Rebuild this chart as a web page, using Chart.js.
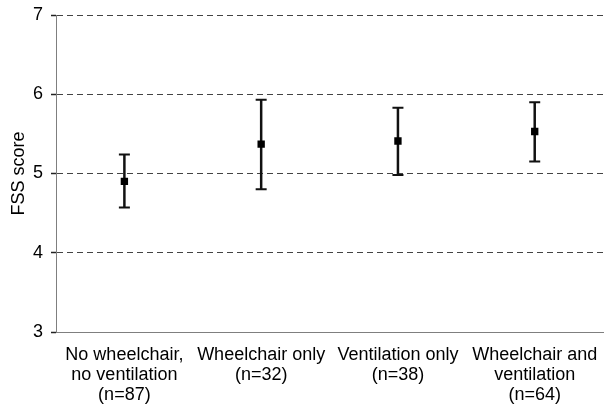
<!DOCTYPE html>
<html>
<head>
<meta charset="utf-8">
<script src="https://cdn.jsdelivr.net/npm/chart.js@4/dist/chart.umd.min.js"></script>
<style>
  html, body { margin: 0; padding: 0; background: #fff; }
  #wrap { width: 611px; height: 407px; }
</style>
</head>
<body>
<div id="wrap"><canvas id="c" width="611" height="407"></canvas></div>
<script>
// Group labels (one entry per line)
const categories = [
  ['No wheelchair,', 'no ventilation', '(n=87)'],
  ['Wheelchair only', '(n=32)'],
  ['Ventilation only', '(n=38)'],
  ['Wheelchair and', 'ventilation', '(n=64)']
];
// Mean FSS score per group and the ends of its error bar
const means = [4.90, 5.37, 5.41, 5.53];
const upper = [5.24, 5.93, 5.83, 5.90];
const lower = [4.57, 4.80, 4.98, 5.15];
// Y-axis range
const yMin = 3, yMax = 7, yStep = 1;

// Draws vertical whiskers with caps for each group, positioned by the chart's scales
const errorBars = {
  id: 'errorBars',
  beforeDatasetsDraw(chart) {
    const ctx = chart.ctx;
    const xs = chart.scales.x, ys = chart.scales.y;
    ctx.save();
    ctx.strokeStyle = '#111';
    ctx.lineCap = 'butt';
    means.forEach((m, i) => {
      const x = xs.getPixelForValue(i);
      const yTop = ys.getPixelForValue(upper[i]);
      const yBot = ys.getPixelForValue(lower[i]);
      ctx.lineWidth = 2.5;
      ctx.beginPath();
      ctx.moveTo(x, yTop);
      ctx.lineTo(x, yBot);
      ctx.stroke();
      ctx.lineWidth = 2;
      ctx.beginPath();
      ctx.moveTo(x - 5.5, yTop);
      ctx.lineTo(x + 5.5, yTop);
      ctx.moveTo(x - 5.5, yBot);
      ctx.lineTo(x + 5.5, yBot);
      ctx.stroke();
    });
    ctx.restore();
  }
};

Chart.defaults.font.family = '"Liberation Sans", Arial, sans-serif';
Chart.defaults.font.size = 18;
Chart.defaults.color = '#000';

new Chart(document.getElementById('c'), {
  type: 'line',
  data: {
    labels: categories,
    datasets: [{
      data: means,
      showLine: false,
      pointStyle: 'rect',
      pointRadius: 5.2,
      pointBackgroundColor: '#000',
      pointBorderColor: '#000',
      pointBorderWidth: 0
    }]
  },
  options: {
    responsive: false,
    animation: false,
    devicePixelRatio: 1,
    layout: { padding: { top: 15, right: 6, bottom: 0, left: 0 } },
    plugins: { legend: { display: false }, tooltip: { enabled: false } },
    scales: {
      x: {
        type: 'category',
        offset: true,
        grid: { drawOnChartArea: false, drawTicks: false },
        border: { display: true, color: '#7f7f7f', width: 1 },
        ticks: {
          maxRotation: 0,
          autoSkip: false,
          padding: 13,
          font: { size: 18, lineHeight: 20 / 18 }
        },
        afterFit(scale) { scale.height = 75; }
      },
      y: {
        min: yMin,
        max: yMax,
        ticks: { stepSize: yStep, padding: 8, font: { size: 18 } },
        grid: {
          color: (c) => (c.tick && c.tick.value === yMin) ? 'rgba(0,0,0,0)' : '#444',
          lineWidth: 1,
          tickLength: 5,
          tickColor: '#222',
          tickWidth: 1.5,
          tickBorderDash: []
        },
        border: { display: true, color: '#7f7f7f', width: 1, dash: [6, 4] },
        title: {
          display: true,
          text: 'FSS score',
          font: { size: 18 },
          padding: { top: 8, bottom: 0 }
        },
        afterFit(scale) {
          scale.width = 56;
          scale.paddingTop = 0;
          scale.paddingBottom = 0;
        }
      }
    }
  },
  plugins: [errorBars]
});
</script>
</body>
</html>
